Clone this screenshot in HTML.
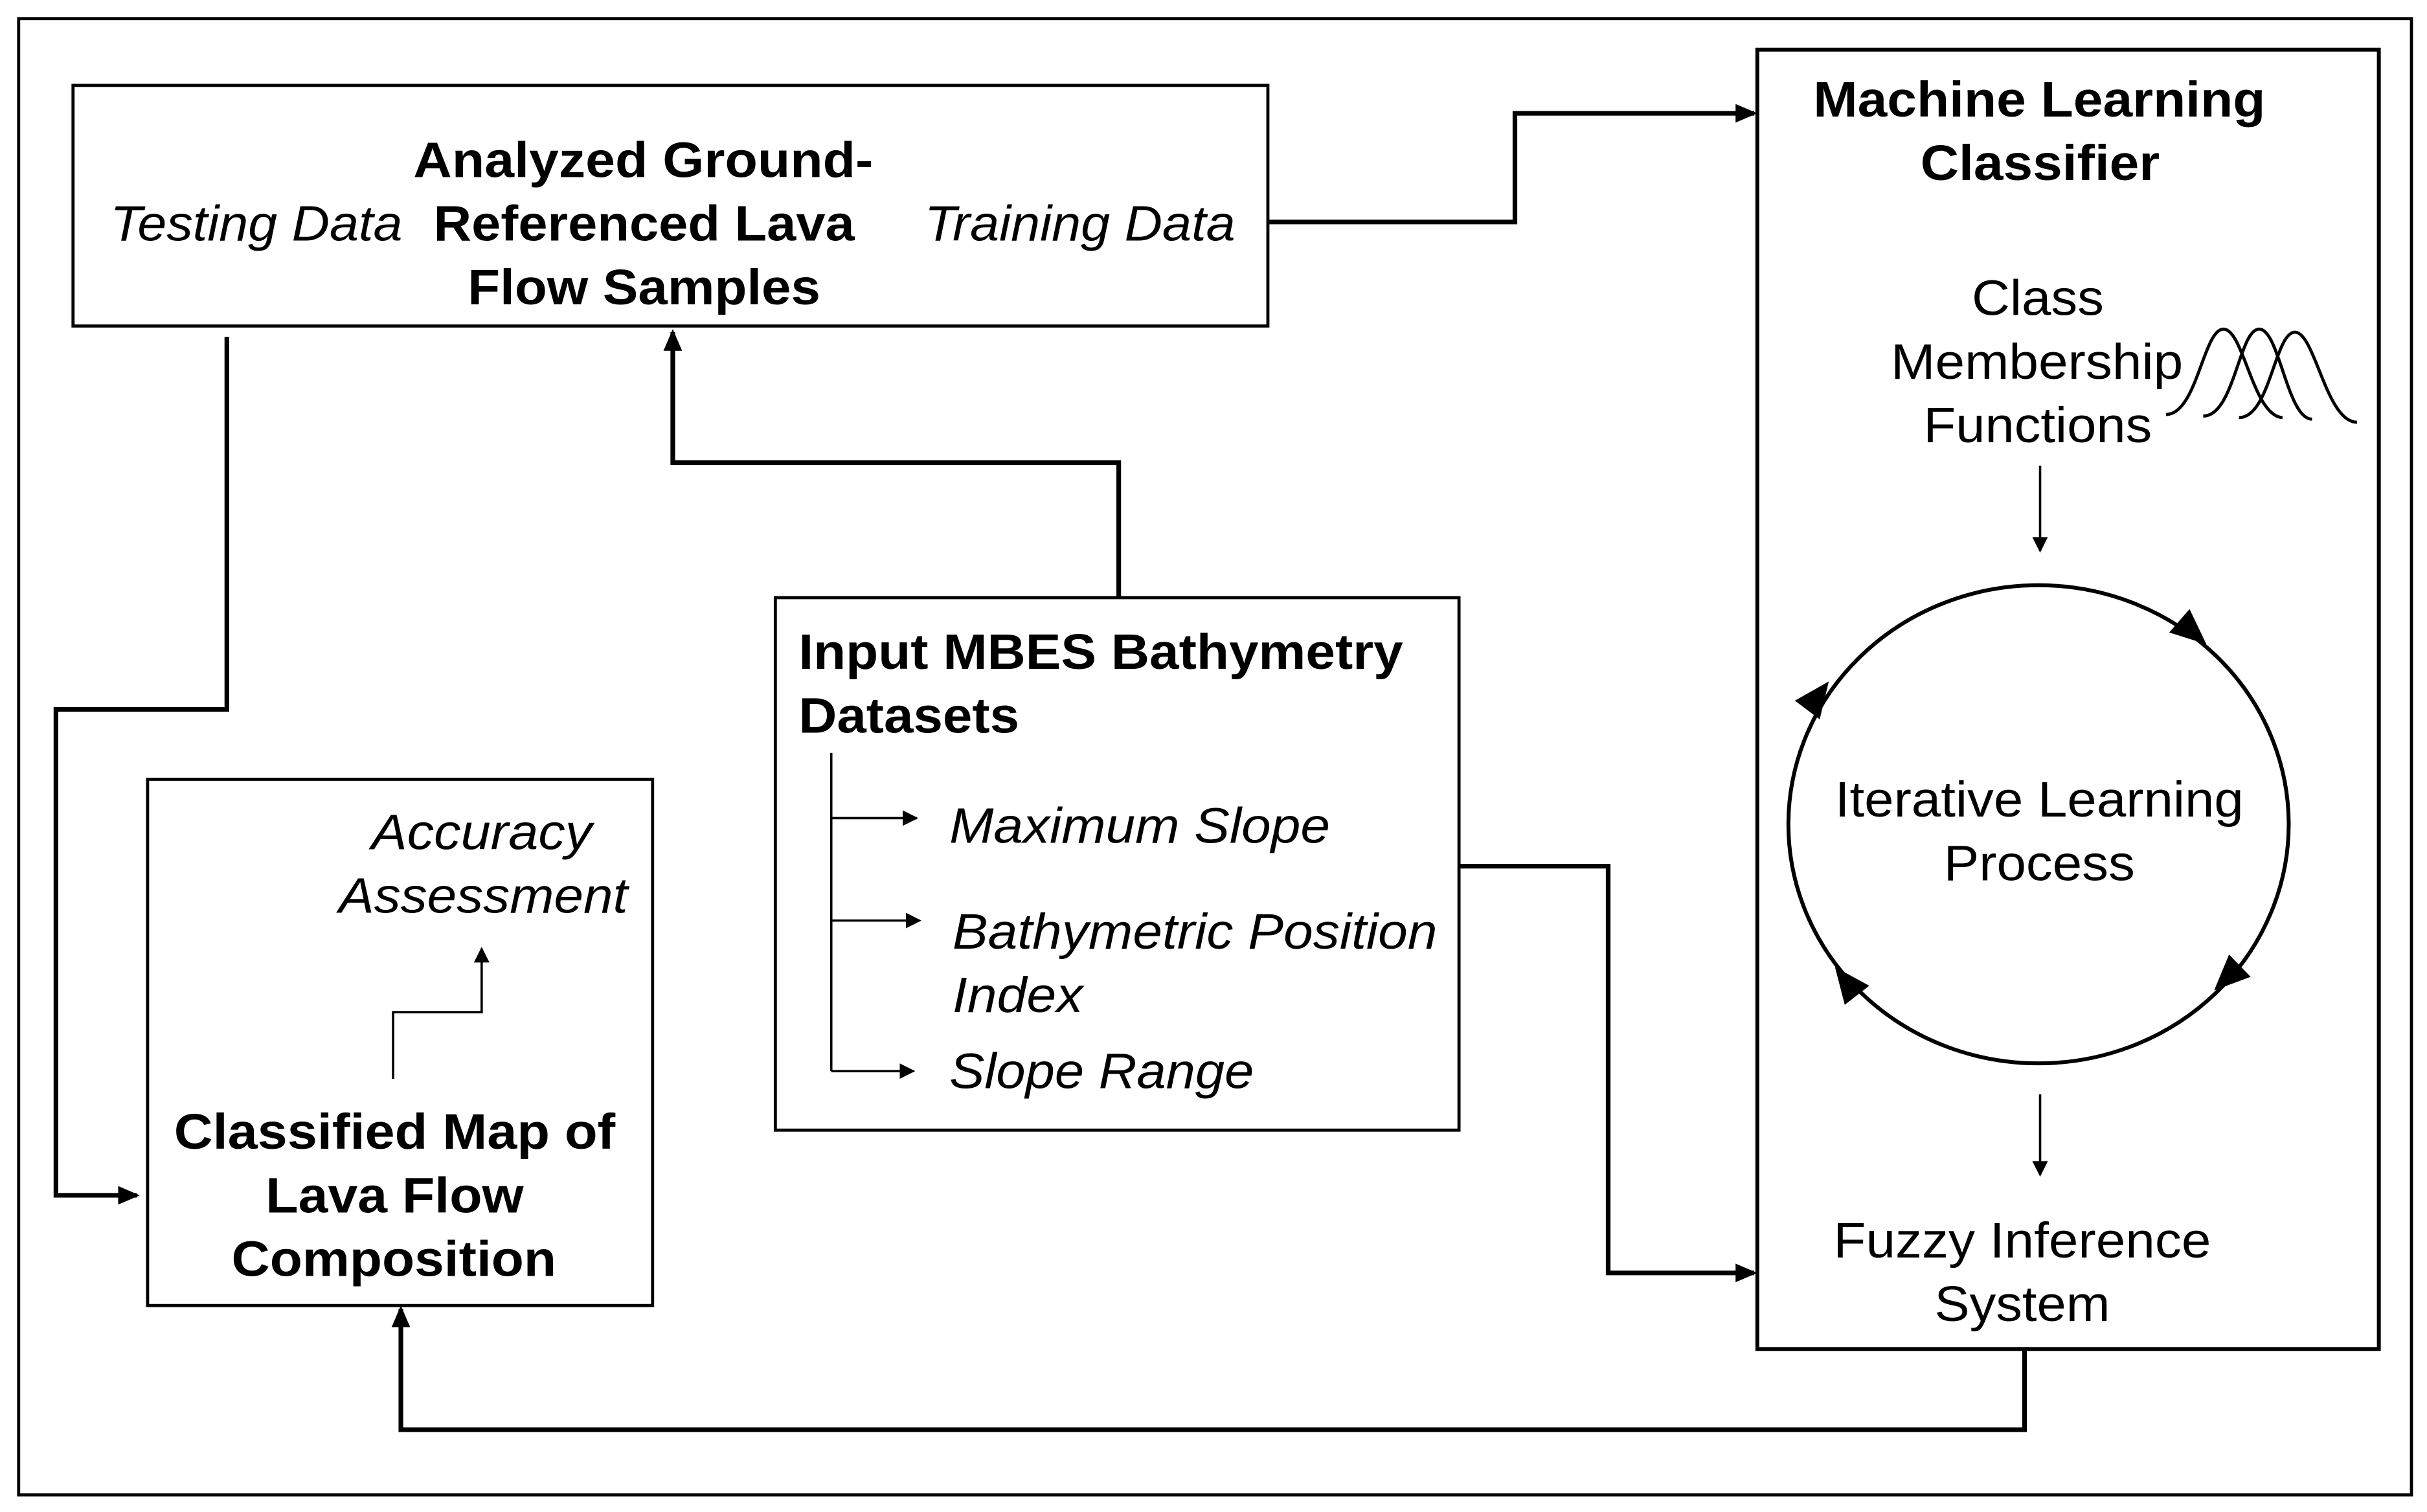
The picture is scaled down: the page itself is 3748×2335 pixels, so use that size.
<!DOCTYPE html>
<html><head><meta charset="utf-8"><style>
html,body{margin:0;padding:0;background:#fff}
svg{display:block}
text{font-family:"Liberation Sans",Arial,sans-serif;font-size:32px;fill:#000}
.b{font-weight:bold}
.i{font-style:italic}
</style></head><body>
<svg width="3748" height="2335" viewBox="0 0 1562 974" preserveAspectRatio="none" xmlns="http://www.w3.org/2000/svg">
<defs>
<marker id="a" markerWidth="10" markerHeight="10" refX="9" refY="5" orient="auto" markerUnits="userSpaceOnUse" viewBox="0 0 10 10">
<path d="M0,0 L10,5 L0,10 z" fill="#000"/></marker>
<marker id="s" markerWidth="14" markerHeight="12" refX="12" refY="6" orient="auto" markerUnits="userSpaceOnUse" viewBox="0 0 14 12">
<path d="M0,0 L14,6 L0,12 z" fill="#000"/></marker>
</defs>
<rect x="12" y="12" width="1540" height="951" fill="none" stroke="#000" stroke-width="2"/>
<rect x="47" y="55" width="769" height="155" fill="none" stroke="#000" stroke-width="2"/>
<rect x="1131" y="32" width="400" height="837" fill="none" stroke="#000" stroke-width="2.5"/>
<rect x="499" y="385" width="440" height="343" fill="none" stroke="#000" stroke-width="2"/>
<rect x="95" y="502" width="325" height="339" fill="none" stroke="#000" stroke-width="2"/>
<g fill="none" stroke="#000" stroke-width="3">
<polyline points="816,143 975,143 975,73 1129,73" marker-end="url(#s)"/>
<polyline points="146,217 146,457 36,457 36,770 88,770" marker-end="url(#s)"/>
<polyline points="720,385 720,298 433,298 433,214" marker-end="url(#s)"/>
<polyline points="939,558 1035,558 1035,820 1129,820" marker-end="url(#s)"/>
<polyline points="1303,869 1303,921 258,921 258,843" marker-end="url(#s)"/>
</g>
<g fill="none" stroke="#000" stroke-width="1.5">
<line x1="1313" y1="300" x2="1313" y2="355" marker-end="url(#a)"/>
<line x1="1313" y1="705" x2="1313" y2="757" marker-end="url(#a)"/>
<polyline points="535,485 535,690"/>
<line x1="535" y1="527" x2="590" y2="527" marker-end="url(#a)"/>
<line x1="535" y1="593" x2="592" y2="593" marker-end="url(#a)"/>
<line x1="535" y1="690" x2="588" y2="690" marker-end="url(#a)"/>
<polyline points="253,695 253,652 310,652 310,611" marker-end="url(#a)"/>
</g>
<ellipse cx="1312" cy="531" rx="161" ry="154" fill="none" stroke="#000" stroke-width="2.5"/>
<g fill="#000">
<path d="M0,0 L-23,-10 L-23,10 z" transform="translate(1420,415) rotate(41)"/>
<path d="M0,0 L-23,-10 L-23,10 z" transform="translate(1425,638) rotate(136)"/>
<path d="M0,0 L-23,-10 L-23,10 z" transform="translate(1181,623) rotate(-128)"/>
<path d="M0,0 L-23,-10 L-23,10 z" transform="translate(1177,439) rotate(-53)"/>
</g>
<g fill="none" stroke="#000" stroke-width="2">
<path d="M1394,267 C1414,267 1418,212 1431,212 C1444,212 1450,268 1469,269"/>
<path d="M1418,268 C1438,268 1441,212 1454,212 C1467,212 1472,270 1488,270"/>
<path d="M1441,269 C1461,269 1464,214 1477,214 C1490,214 1497,272 1517,272"/>
</g>
<text class="b" x="266" y="114" textLength="296" lengthAdjust="spacingAndGlyphs">Analyzed Ground-</text>
<text class="b" x="279" y="155" textLength="271" lengthAdjust="spacingAndGlyphs">Referenced Lava</text>
<text class="b" x="301" y="196" textLength="227" lengthAdjust="spacingAndGlyphs">Flow Samples</text>
<text class="i" x="71" y="155" textLength="188" lengthAdjust="spacingAndGlyphs">Testing Data</text>
<text class="i" x="595" y="155" textLength="200" lengthAdjust="spacingAndGlyphs">Training Data</text>
<text class="b" x="1167" y="75" textLength="291" lengthAdjust="spacingAndGlyphs">Machine Learning</text>
<text class="b" x="1236" y="116" textLength="154" lengthAdjust="spacingAndGlyphs">Classifier</text>
<text x="1269" y="203" textLength="85" lengthAdjust="spacingAndGlyphs">Class</text>
<text x="1217" y="244" textLength="188" lengthAdjust="spacingAndGlyphs">Membership</text>
<text x="1238" y="285" textLength="147" lengthAdjust="spacingAndGlyphs">Functions</text>
<text x="1181" y="526" textLength="263" lengthAdjust="spacingAndGlyphs">Iterative Learning</text>
<text x="1251" y="567" textLength="123" lengthAdjust="spacingAndGlyphs">Process</text>
<text x="1180" y="810" textLength="243" lengthAdjust="spacingAndGlyphs">Fuzzy Inference</text>
<text x="1245" y="851" textLength="113" lengthAdjust="spacingAndGlyphs">System</text>
<text class="b" x="514" y="431" textLength="389" lengthAdjust="spacingAndGlyphs">Input MBES Bathymetry</text>
<text class="b" x="514" y="472" textLength="142" lengthAdjust="spacingAndGlyphs">Datasets</text>
<text class="i" x="611" y="543" textLength="245" lengthAdjust="spacingAndGlyphs">Maximum Slope</text>
<text class="i" x="613" y="611" textLength="312" lengthAdjust="spacingAndGlyphs">Bathymetric Position</text>
<text class="i" x="613" y="652" textLength="84" lengthAdjust="spacingAndGlyphs">Index</text>
<text class="i" x="611" y="701" textLength="196" lengthAdjust="spacingAndGlyphs">Slope Range</text>
<text class="i" x="239" y="547" textLength="142" lengthAdjust="spacingAndGlyphs">Accuracy</text>
<text class="i" x="218" y="588" textLength="186" lengthAdjust="spacingAndGlyphs">Assessment</text>
<text class="b" x="112" y="740" textLength="284" lengthAdjust="spacingAndGlyphs">Classified Map of</text>
<text class="b" x="171" y="781" textLength="166" lengthAdjust="spacingAndGlyphs">Lava Flow</text>
<text class="b" x="149" y="822" textLength="209" lengthAdjust="spacingAndGlyphs">Composition</text>
</svg>
</body></html>
